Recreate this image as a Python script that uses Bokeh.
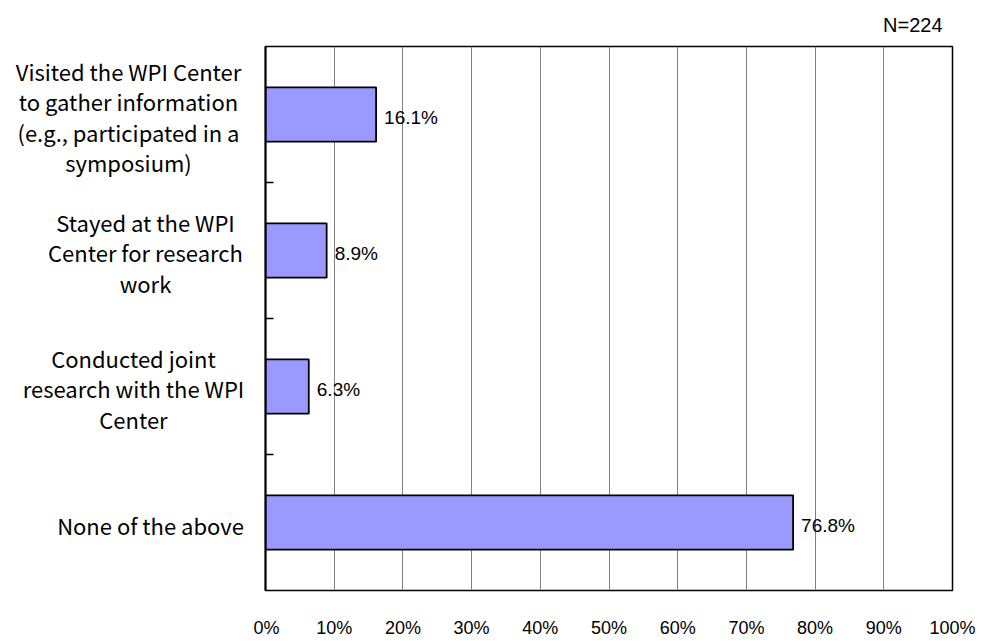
from bokeh.plotting import figure
from bokeh.layouts import row
from bokeh.models import Range1d, FixedTicker, ColumnDataSource
from bokeh.core.properties import value
from bokeh.embed import file_html
from bokeh.resources import INLINE

# ---- data ----
categories = [
    "Visited the WPI Center\nto gather information\n(e.g., participated in a\nsymposium)",
    "Stayed at the WPI\nCenter for research\nwork",
    "Conducted joint\nresearch with the WPI\nCenter",
    "None of the above",
]
percentages = [16.1, 8.9, 6.3, 76.8]
value_labels = ["16.1%", "8.9%", "6.3%", "76.8%"]
tick_values = [0, 10, 20, 30, 40, 50, 60, 70, 80, 90, 100]
tick_labels = ["0%", "10%", "20%", "30%", "40%", "50%", "60%", "70%", "80%", "90%", "100%"]
sample_note = "N=224"

# ---- style ----
NUM_FONT = "Liberation Sans"
CAT_FONT = "Noto Sans CJK JP"
label_centers_px = [128, 145, 133, 150]   # centre of each label block in the label panel
LABEL_PANEL_W = 253
TOP = 46

n = len(categories)
ys = [n - i - 0.5 for i in range(n)]  # top to bottom

src = ColumnDataSource(dict(y=ys, pct=percentages, lab=value_labels))

p = figure(
    frame_width=687, frame_height=544,
    x_range=Range1d(0, 100), y_range=Range1d(0, n),
    output_backend="svg", toolbar_location=None,
    min_border_left=12, min_border_top=TOP, min_border_right=26, min_border_bottom=0,
    background_fill_color="white", border_fill_color="white",
    title=sample_note, title_location="above",
)
p.title.align = "right"
p.title.offset = 10
p.title.text_font = NUM_FONT
p.title.text_font_size = "20px"
p.title.text_font_style = "normal"
p.title.text_color = "black"
p.title.standoff = 22

p.outline_line_color = "black"
p.outline_line_width = 1.5

# grid
p.xgrid.ticker = FixedTicker(ticks=tick_values[1:-1])
p.xgrid.grid_line_color = "#808080"
p.xgrid.grid_line_width = 1
p.ygrid.grid_line_color = None

# x axis
p.xaxis.ticker = FixedTicker(ticks=tick_values)
p.xaxis.major_label_overrides = {v: t for v, t in zip(tick_values, tick_labels)}
p.xaxis.axis_line_color = None
p.xaxis.major_tick_line_color = None
p.xaxis.minor_tick_line_color = None
p.xaxis.major_label_standoff = 21
p.xaxis.major_label_text_font = NUM_FONT
p.xaxis.major_label_text_font_size = "18px"
p.xaxis.major_label_text_color = "black"

# y axis: only small inward ticks at band boundaries
p.yaxis.ticker = FixedTicker(ticks=[i for i in range(1, n)])
p.yaxis.major_label_overrides = {i: "" for i in range(1, n)}
p.yaxis.major_tick_in = 8
p.yaxis.major_tick_out = 0
p.yaxis.major_tick_line_color = "black"
p.yaxis.major_tick_line_width = 1.5
p.yaxis.minor_tick_line_color = None
p.yaxis.axis_line_color = "black"
p.yaxis.axis_line_width = 2
p.yaxis.major_label_standoff = 0

# bars
p.hbar(y="y", left=0, right="pct", height=0.4, source=src,
       fill_color="#9999FF", line_color="black", line_width=1.8)

# value labels
p.text(x="pct", y="y", text="lab", source=src, x_offset=8, y_offset=3,
       text_font=value(NUM_FONT), text_font_size="19px",
       text_baseline="middle", text_align="left", text_color="black")

# label panel sharing the y range
lab_src = ColumnDataSource(dict(y=ys, txt=categories, cx=label_centers_px))
q = figure(
    frame_width=LABEL_PANEL_W, frame_height=544,
    x_range=Range1d(0, LABEL_PANEL_W), y_range=p.y_range,
    output_backend="svg", toolbar_location=None,
    x_axis_type=None, y_axis_type=None,
    min_border_left=0, min_border_right=0, min_border_top=TOP, min_border_bottom=0,
    background_fill_color="white", border_fill_color="white",
)
q.outline_line_color = None
q.grid.visible = False
q.text(x="cx", y="y", text="txt", source=lab_src, y_offset=2,
       text_font=value(CAT_FONT), text_font_size="22px", text_line_height=0.94,
       text_align="center", text_baseline="middle", text_color="black")

layout = row(q, p, spacing=0)
open("out.html", "w").write(file_html(layout, INLINE))
